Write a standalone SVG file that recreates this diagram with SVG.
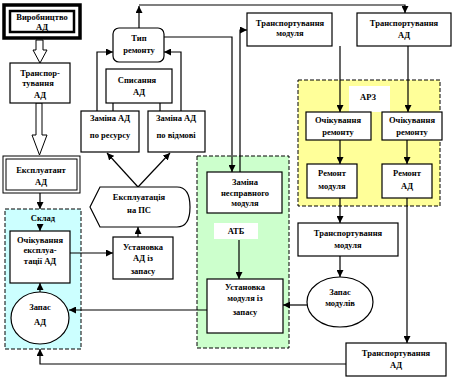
<svg xmlns="http://www.w3.org/2000/svg" width="460" height="380" viewBox="0 0 460 380">
<defs>
<marker id="a" viewBox="0 0 10 10" refX="10" refY="5" markerWidth="7" markerHeight="7" markerUnits="userSpaceOnUse" orient="auto"><path d="M0,0 L10,5 L0,10 z" fill="#000"/></marker>
<style>
text{font-family:"Liberation Serif","Times New Roman",serif;font-weight:bold;font-size:8.5px;text-anchor:middle;fill:#000}
.b{fill:#fff;stroke:#000;stroke-width:1.2}
.r{stroke:#000;stroke-width:1;stroke-dasharray:4,2}
.c{fill:none;stroke:#000;stroke-width:1.2}
.ca{fill:none;stroke:#000;stroke-width:1.2;marker-end:url(#a)}
.h{fill:#fff;stroke:#000;stroke-width:1}
</style>
</defs>
<rect width="460" height="380" fill="#fff"/>

<g id="region-sklad"><rect class="r" x="5" y="209" width="76" height="140" fill="#ccffff"/></g>
<g id="region-atb"><rect class="r" x="197" y="156" width="92" height="192" fill="#ccffcc"/></g>
<g id="region-arz"><rect class="r" x="298" y="80" width="142" height="126" fill="#ffff99"/></g>

<g id="connectors">
<polygon class="h" points="36,40 43,40 43,50 47,50 40,63 33,50 36,50"/>
<polygon class="h" points="36,103 42,103 42,135 47,135 39.5,155 32,135 36,135"/>
<path class="ca" d="M40,193 V209"/>
<path class="ca" d="M40,224 V231"/>
<path class="ca" d="M40,292 V283"/>
<path class="ca" d="M70,253 H113"/>
<path class="ca" d="M138,237 V227"/>
<path class="ca" d="M138,187 L107,153"/>
<path class="ca" d="M138,187 L170,153"/>
<path class="ca" d="M113,111 V96"/>
<path class="ca" d="M160,111 V96"/>
<path class="ca" d="M97,111 V52 H113"/>
<path class="ca" d="M181,111 V52 H164"/>
<path class="ca" d="M139,28 V6"/>
<path class="ca" d="M139,5 H405 V13"/>
<path class="ca" d="M164,37 H232 V172"/>
<path class="ca" d="M240,172 V30 H247"/>
<path class="ca" d="M340,46 V112"/>
<path class="ca" d="M408,46 V112"/>
<path class="ca" d="M340,140 V164"/>
<path class="ca" d="M407,140 V164"/>
<path class="ca" d="M340,198 V223"/>
<path class="ca" d="M407,198 V343"/>
<path class="ca" d="M340,256 V277"/>
<path class="ca" d="M307,305 H283"/>
<path class="ca" d="M239,240 V279"/>
<path class="ca" d="M207,310 H69"/>
<path class="ca" d="M346,364 H40 V349"/>
</g>

<g id="label-sklad"><rect x="22" y="211" width="42" height="13" fill="#ccffff"/><text x="43" y="221">Склад</text></g>
<g id="label-atb"><rect x="214" y="223" width="44" height="16" fill="#fff"/><text x="236" y="234">АТБ</text></g>
<g id="label-arz"><rect x="349" y="86" width="41" height="26" fill="#fff"/><text x="368" y="100">АРЗ</text></g>

<g id="n-vyrobnytstvo">
<rect x="4" y="5" width="76" height="33" fill="#fff" stroke="#000" stroke-width="3.5"/>
<rect x="10" y="11" width="64" height="21" fill="none" stroke="#000" stroke-width="2.5"/>
<text x="42" y="20" font-size="7.5">Виробництво</text><text x="42" y="29.5" font-size="8.5">АД</text>
</g>
<g id="n-transp1"><rect class="b" x="10" y="63" width="60" height="40"/>
<text x="40" y="76">Транспор-</text><text x="38" y="86">тування</text><text x="40" y="98">АД</text></g>
<g id="n-ekspluatant">
<rect x="3" y="156" width="77" height="37" fill="#fff" stroke="#000" stroke-width="1"/>
<rect x="6" y="159" width="71" height="31" fill="none" stroke="#000" stroke-width="1"/>
<text x="41" y="173">Експлуатант</text><text x="41" y="185">АД</text></g>
<g id="n-ochikuvannia-eksp"><rect class="b" x="10" y="231" width="60" height="52"/>
<text x="40" y="243">Очікування</text><text x="40" y="253">експлуа-</text><text x="40" y="264">тації АД</text></g>
<g id="n-zapas-ad"><ellipse class="b" cx="40" cy="318" rx="29" ry="26"/>
<text x="40" y="310">Запас</text><text x="40" y="325">АД</text></g>
<g id="n-ustanovka-ad"><rect class="b" x="113" y="237" width="60" height="42"/>
<text x="143" y="250">Установка</text><text x="143" y="261">АД із</text><text x="143" y="274">запасу</text></g>
<g id="n-ekspluatatsiia"><path class="b" d="M100,187 H177 Q190,187 190,207 Q190,227 177,227 H100 L90,207 Z"/>
<text x="139" y="200">Експлуатація</text><text x="139" y="213">на ПС</text></g>
<g id="n-zamina-resurs"><rect class="b" x="81" y="111" width="58" height="41"/>
<text x="110" y="121">Заміна АД</text><text x="110" y="138">по ресурсу</text></g>
<g id="n-zamina-vidmova"><rect class="b" x="148" y="111" width="57" height="41"/>
<text x="176" y="121">Заміна АД</text><text x="176" y="138">по відмові</text></g>
<g id="n-spysannia"><rect class="b" x="106" y="69" width="66" height="34"/>
<text x="137" y="83">Списання</text><text x="139" y="95">АД</text></g>
<g id="n-typ-remontu"><rect class="b" x="113" y="28" width="51" height="34" rx="6"/>
<text x="139" y="41">Тип</text><text x="139" y="53">ремонту</text></g>
<g id="n-transp-modulia1"><rect class="b" x="247" y="13" width="85" height="33"/>
<text x="290" y="26">Транспортування</text><text x="290" y="36">модуля</text></g>
<g id="n-transp-ad1"><rect class="b" x="357" y="13" width="94" height="33"/>
<text x="404" y="26">Транспортування</text><text x="404" y="38">АД</text></g>
<g id="n-ochik-rem1"><rect class="b" x="306" y="112" width="65" height="28"/>
<text x="338" y="123">Очікування</text><text x="338" y="135">ремонту</text></g>
<g id="n-ochik-rem2"><rect class="b" x="382" y="112" width="60" height="28"/>
<text x="412" y="123">Очікування</text><text x="412" y="135">ремонту</text></g>
<g id="n-remont-modulia"><rect class="b" x="307" y="164" width="50" height="34"/>
<text x="332" y="176">Ремонт</text><text x="332" y="189">модуля</text></g>
<g id="n-remont-ad"><rect class="b" x="382" y="164" width="50" height="34"/>
<text x="407" y="176">Ремонт</text><text x="407" y="189">АД</text></g>
<g id="n-zamina-modulia"><rect class="b" x="207" y="172" width="75" height="41"/>
<text x="245" y="185">Заміна</text><text x="245" y="196">несправного</text><text x="245" y="206">модуля</text></g>
<g id="n-ustanovka-modulia"><rect class="b" x="207" y="279" width="76" height="54"/>
<text x="245" y="290">Установка</text><text x="245" y="301">модуля із</text><text x="245" y="315">запасу</text></g>
<g id="n-transp-modulia2"><rect class="b" x="298" y="223" width="100" height="33"/>
<text x="348" y="236">Транспортування</text><text x="348" y="248">модуля</text></g>
<g id="n-zapas-moduliv"><ellipse class="b" cx="340" cy="302" rx="33" ry="25"/>
<text x="340" y="295">Запас</text><text x="340" y="306">модулів</text></g>
<g id="n-transp-ad2"><rect class="b" x="346" y="343" width="100" height="33"/>
<text x="396" y="356">Транспортування</text><text x="396" y="368">АД</text></g>
</svg>
